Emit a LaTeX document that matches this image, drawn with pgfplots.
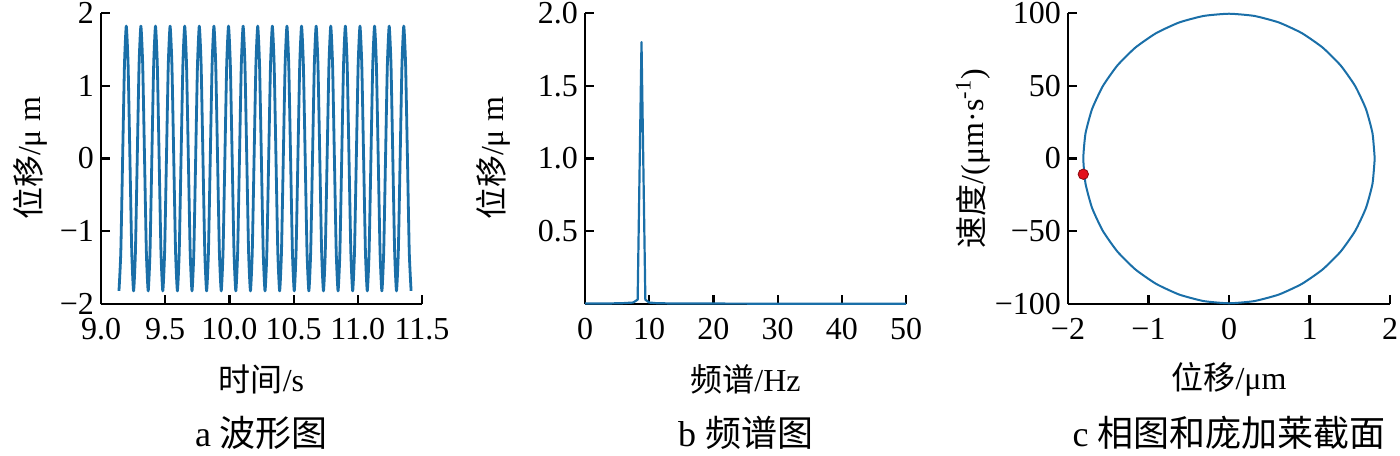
\documentclass[border=0pt]{standalone}
\usepackage{fontspec}
\setmainfont{Liberation Serif}
\newfontfamily\cjk{Noto Sans CJK SC}
\usepackage{pgfplots}
\pgfplotsset{compat=1.18}
\definecolor{mblue}{HTML}{1A6FA8}
\definecolor{mred}{HTML}{E3101B}
\definecolor{dred}{HTML}{8A0A10}

\tikzset{subcap/.style={font=\fontsize{18}{20}\selectfont}}
\pgfplotsset{
  panel/.style={
    scale only axis, width=160.5pt, height=145.5pt,
    anchor=south west, clip=false,
    axis x line=bottom, axis y line=left,
    axis line style={-, line width=1.1pt, black},
    tick align=inside, major tick length=4.5pt,
    tick style={line width=1.1pt, black},
    ticklabel style={font=\fontsize{16}{16}\selectfont},
    xticklabel style={yshift=-3.5pt},
    /pgf/number format/assume math mode=true,
    label style={font=\fontsize{16}{19}\selectfont},
    xlabel style={at={(axis description cs:0.5,-0.258)}, anchor=center},
  },
}

\begin{document}
\begin{tikzpicture}[line join=round]
\path[use as bounding box] (0,0) rectangle (700pt,-227.5pt);

% a: waveform
\begin{axis}[panel, at={(50.5pt,-152pt)},
  xmin=9, xmax=11.5, ymin=-2, ymax=2,
  xtick={9,9.5,10,10.5,11,11.5}, xticklabels={9.0,9.5,10.0,10.5,11.0,11.5},
  ytick={-2,-1,0,1,2}, yticklabels={−2,−1,0,1,2},
  xlabel={{\cjk 时间}/s},
  ylabel={{\cjk 位移}/μ m},
  ylabel style={at={(axis description cs:-0.221,0.5)}, anchor=center},
]
\addplot[mblue, line width=1.4pt, line join=round, smooth, tension=0.33] coordinates {
(9.1400,-1.82)(9.1542,-1.287)(9.1684,0)(9.1827,1.287)(9.1969,1.82)(9.2111,1.287)(9.2253,0)(9.2395,-1.287)
(9.2538,-1.82)(9.2680,-1.287)(9.2822,0)(9.2964,1.287)(9.3106,1.82)(9.3248,1.287)(9.3391,0)(9.3533,-1.287)
(9.3675,-1.82)(9.3817,-1.287)(9.3959,0)(9.4102,1.287)(9.4244,1.82)(9.4386,1.287)(9.4528,0)(9.4670,-1.287)
(9.4813,-1.82)(9.4955,-1.287)(9.5097,0)(9.5239,1.287)(9.5381,1.82)(9.5523,1.287)(9.5666,0)(9.5808,-1.287)
(9.5950,-1.82)(9.6092,-1.287)(9.6234,0)(9.6377,1.287)(9.6519,1.82)(9.6661,1.287)(9.6803,0)(9.6945,-1.287)
(9.7088,-1.82)(9.7230,-1.287)(9.7372,0)(9.7514,1.287)(9.7656,1.82)(9.7798,1.287)(9.7941,0)(9.8083,-1.287)
(9.8225,-1.82)(9.8367,-1.287)(9.8509,0)(9.8652,1.287)(9.8794,1.82)(9.8936,1.287)(9.9078,0)(9.9220,-1.287)
(9.9363,-1.82)(9.9505,-1.287)(9.9647,0)(9.9789,1.287)(9.9931,1.82)(10.0073,1.287)(10.0216,0)(10.0358,-1.287)
(10.0500,-1.82)(10.0642,-1.287)(10.0784,0)(10.0927,1.287)(10.1069,1.82)(10.1211,1.287)(10.1353,0)(10.1495,-1.287)
(10.1638,-1.82)(10.1780,-1.287)(10.1922,0)(10.2064,1.287)(10.2206,1.82)(10.2348,1.287)(10.2491,0)(10.2633,-1.287)
(10.2775,-1.82)(10.2917,-1.287)(10.3059,0)(10.3202,1.287)(10.3344,1.82)(10.3486,1.287)(10.3628,0)(10.3770,-1.287)
(10.3913,-1.82)(10.4055,-1.287)(10.4197,0)(10.4339,1.287)(10.4481,1.82)(10.4623,1.287)(10.4766,0)(10.4908,-1.287)
(10.5050,-1.82)(10.5192,-1.287)(10.5334,0)(10.5477,1.287)(10.5619,1.82)(10.5761,1.287)(10.5903,0)(10.6045,-1.287)
(10.6188,-1.82)(10.6330,-1.287)(10.6472,0)(10.6614,1.287)(10.6756,1.82)(10.6898,1.287)(10.7041,0)(10.7183,-1.287)
(10.7325,-1.82)(10.7467,-1.287)(10.7609,0)(10.7752,1.287)(10.7894,1.82)(10.8036,1.287)(10.8178,0)(10.8320,-1.287)
(10.8463,-1.82)(10.8605,-1.287)(10.8747,0)(10.8889,1.287)(10.9031,1.82)(10.9173,1.287)(10.9316,0)(10.9458,-1.287)
(10.9600,-1.82)(10.9742,-1.287)(10.9884,0)(11.0027,1.287)(11.0169,1.82)(11.0311,1.287)(11.0453,0)(11.0595,-1.287)
(11.0738,-1.82)(11.0880,-1.287)(11.1022,0)(11.1164,1.287)(11.1306,1.82)(11.1448,1.287)(11.1591,0)(11.1733,-1.287)
(11.1875,-1.82)(11.2017,-1.287)(11.2159,0)(11.2302,1.287)(11.2444,1.82)(11.2586,1.287)(11.2728,0)(11.2870,-1.287)
(11.3013,-1.82)(11.3155,-1.287)(11.3297,0)(11.3439,1.287)(11.3581,1.82)(11.3723,1.287)(11.3866,0)(11.4008,-1.287)
(11.4150,-1.82)
};
\node[subcap] at (axis description cs:0.5,-0.443) {a {\cjk 波形图}};
\end{axis}

% b: spectrum
\begin{axis}[panel, at={(292.5pt,-152pt)},
  xmin=0, xmax=50, ymin=0, ymax=2,
  xtick={0,10,20,30,40,50},
  ytick={0.5,1,1.5,2}, yticklabels={0.5,1.0,1.5,2.0},
  xlabel={{\cjk 频谱}/Hz},
  ylabel={{\cjk 位移}/μ m},
  ylabel style={at={(axis description cs:-0.287,0.5)}, anchor=center},
]
\addplot[mblue, line width=1.1pt, line join=round] coordinates {
(0,0.004)(2,0.003)(4,0.004)(6,0.006)(7.5,0.010)(8.2,0.030)(8.8,1.80)(9.4,0.030)
(10,0.010)(11,0.006)(13,0.004)(20,0.003)(30,0.002)(40,0.002)(50,0.002)
};
\node[subcap] at (axis description cs:0.5,-0.443) {b {\cjk 频谱图}};
\end{axis}

% c: phase portrait and Poincare section
\begin{axis}[panel, at={(534pt,-152pt)}, width=161pt,
  xmin=-2, xmax=2, ymin=-100, ymax=100,
  xtick={-2,-1,0,1,2}, xticklabels={−2,−1,0,1,2},
  ytick={-100,-50,0,50,100}, yticklabels={−100,−50,0,50,100},
  xlabel={{\cjk 位移}/μm},
  ylabel={{\cjk 速度}/(μm·s\textsuperscript{-1})},
  ylabel style={at={(axis description cs:-0.295,0.5)}, anchor=center},
]
\addplot[mblue, line width=1pt, smooth, tension=0.33] coordinates {
(1.81,0)(1.7825,17.27)(1.7009,34.03)(1.5675,49.75)(1.3865,63.96)(1.1635,76.22)(0.905,86.17)(0.619,93.50)(0.3142,97.99)
(0,99.5)(-0.3142,97.99)(-0.619,93.50)(-0.905,86.17)(-1.1635,76.22)(-1.3865,63.96)(-1.5675,49.75)(-1.7009,34.03)(-1.7825,17.27)
(-1.81,0)(-1.7825,-17.27)(-1.7009,-34.03)(-1.5675,-49.75)(-1.3865,-63.96)(-1.1635,-76.22)(-0.905,-86.17)(-0.619,-93.50)(-0.3142,-97.99)
(0,-99.5)(0.3142,-97.99)(0.619,-93.50)(0.905,-86.17)(1.1635,-76.22)(1.3865,-63.96)(1.5675,-49.75)(1.7009,-34.03)(1.7825,-17.27)
(1.81,0)
};
\addplot[only marks, mark=*, mark size=2.6pt, mark options={fill=mred, draw=dred, line width=0.4pt}] coordinates {(-1.81,-10.8)};
\node[subcap] at (axis description cs:0.5,-0.443) {c {\cjk 相图和庞加莱截面}};
\end{axis}
\end{tikzpicture}
\end{document}
